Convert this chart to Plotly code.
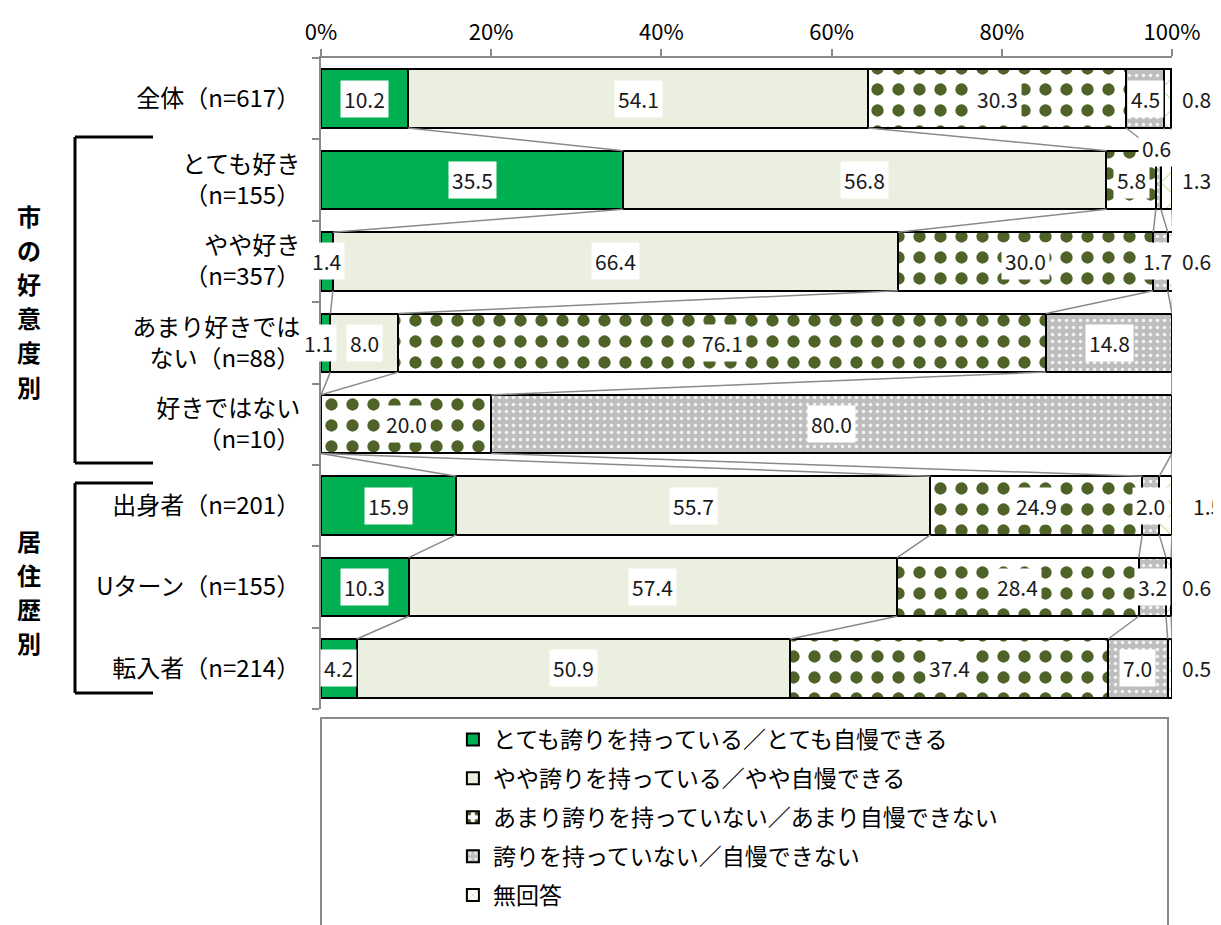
import plotly.graph_objects as go

# rows, top to bottom
categories = ["全体（n=617）", "とても好き<br>（n=155）", "やや好き<br>（n=357）",
              "あまり好きでは<br>ない（n=88）", "好きではない<br>（n=10）",
              "出身者（n=201）", "Uターン（n=155）", "転入者（n=214）"]

series_names = ["とても誇りを持っている／とても自慢できる",
                "やや誇りを持っている／やや自慢できる",
                "あまり誇りを持っていない／あまり自慢できない",
                "誇りを持っていない／自慢できない",
                "無回答"]

very_proud = [10.2, 35.5, 1.4, 1.1, 0, 15.9, 10.3, 4.2]
somewhat_proud = [54.1, 56.8, 66.4, 8.0, 0, 55.7, 57.4, 50.9]
not_very_proud = [30.3, 5.8, 30.0, 76.1, 20.0, 24.9, 28.4, 37.4]
not_proud = [4.5, 0.6, 1.7, 14.8, 80.0, 2.0, 3.2, 7.0]
no_answer = [0.8, 1.3, 0.6, 0, 0, 1.5, 0.6, 0.5]

x_ticks = [0, 20, 40, 60, 80, 100]
x_ticklabels = ["0%", "20%", "40%", "60%", "80%", "100%"]

all_series = [very_proud, somewhat_proud, not_very_proud, not_proud, no_answer]

FONT = "Noto Sans CJK JP"
BAR_W = 0.72
rows = list(range(len(categories)))

styles = [
    dict(color="#00B050", pattern=dict(shape="")),
    dict(color="#EBEFDF", pattern=dict(shape="")),
    dict(color="white", pattern=dict(shape=".", fgcolor="#4F6228", bgcolor="white",
                                     fgopacity=1, size=21, solidity=0.27)),
    dict(color="#BEBEBE", pattern=dict(shape=".", fgcolor="#F4F4F4", bgcolor="#BEBEBE",
                                       fgopacity=1, size=7, solidity=0.2)),
    dict(color="white", pattern=dict(shape="x", fgcolor="#92D050", bgcolor="white",
                                     fgopacity=1, size=22, solidity=0.08)),
]

fig = go.Figure()

# series connector lines (cumulative boundaries between neighbouring bars)
cums = []
for r in rows:
    c, acc = [], 0
    for s in all_series:
        acc += s[r]
        c.append(acc)
    cums.append(c)

lx, ly = [], []
for r in rows[:-1]:
    for k in range(5):
        lx += [cums[r][k], cums[r + 1][k], None]
        ly += [r + BAR_W / 2, r + 1 - BAR_W / 2, None]
fig.add_trace(go.Scatter(x=lx, y=ly, mode="lines", line=dict(color="#8A8A8A", width=1.5),
                         showlegend=False, hoverinfo="skip"))

for i, (name, vals) in enumerate(zip(series_names, all_series)):
    st = styles[i]
    fig.add_trace(go.Bar(
        y=rows, x=vals, name=name, orientation="h", width=BAR_W, legendgroup=str(i),
        marker=dict(color=st["color"], pattern=st["pattern"],
                    line=dict(color="black", width=2)),
    ))

# data labels with white boxes
overrides = {(0, 4): (102.9, 0), (1, 3): (98.2, 0.6), (1, 4): (102.9, 1),
             (2, 4): (102.9, 2), (5, 4): (104.2, 5), (6, 4): (102.9, 6),
             (7, 4): (102.9, 7), (3, 0): (-0.3, 3), (2, 3): (98.3, 2)}
for r in rows:
    start = 0
    for k, s in enumerate(all_series):
        v = s[r]
        if v > 0:
            x, y = overrides.get((r, k), (start + v / 2, r))
            # labels beyond the 0-100 range are placed in paper units
            if x > 100 or x < 0:
                xr, xv = "paper", x / 100
            else:
                xr, xv = "x", x
            fig.add_annotation(x=xv, y=y, xref=xr, yref="y", text=f"{v:.1f}",
                               xanchor="center", yanchor="middle",
                               showarrow=False, bgcolor="white", borderpad=3,
                               font=dict(family=FONT, size=21, color="#1a1a1a"))
        start += v


def px_x(p):
    return (p - 321) / 851


def px_y(p):
    return (709 - p) / 651


# brackets for the two groups
for top, bot in [(137, 463), (483, 693)]:
    for x0, y0, x1, y1 in [(75, top, 75, bot), (75, top, 153, top), (75, bot, 153, bot)]:
        fig.add_shape(type="line", xref="paper", yref="paper",
                      x0=px_x(x0), y0=px_y(y0), x1=px_x(x1), y1=px_y(y1),
                      line=dict(color="black", width=3))

for text, y_first in [("市の好意度別", 215), ("居住歴別", 540)]:
    for j, ch in enumerate(text):
        fig.add_annotation(x=px_x(29), y=px_y(y_first + 34.2 * j), xref="paper", yref="paper",
                           xanchor="center", yanchor="middle",
                           text=f"<b>{ch}</b>", showarrow=False,
                           font=dict(family=FONT, size=24, color="black"))

# legend frame
fig.add_shape(type="rect", xref="paper", yref="paper", x0=0, x1=px_x(1168),
              y0=px_y(718), y1=px_y(960), line=dict(color="#8A8A8A", width=2))

# the page body adds an 8px offset, so left/top margins are trimmed by 8
fig.update_layout(
    width=1221, height=925,
    barmode="stack",
    plot_bgcolor="white", paper_bgcolor="white",
    margin=dict(l=313, r=57, t=50, b=224),
    font=dict(family=FONT, size=24, color="black"),
    showlegend=True,
    legend=dict(orientation="v", x=0.155, xanchor="left", y=px_y(718), yanchor="top",
                traceorder="grouped", tracegroupgap=6, font=dict(size=23),
                bgcolor="rgba(0,0,0,0)"),
)
fig.update_xaxes(range=[0, 100], side="top", tickvals=x_ticks, ticktext=x_ticklabels,
                 showgrid=False, zeroline=False, showline=True, linecolor="#8A8A8A",
                 linewidth=2, ticks="outside", ticklen=7, tickcolor="#8A8A8A", tickwidth=2,
                 tickfont=dict(size=22), automargin=False)
fig.update_yaxes(range=[7.5, -0.5], tickvals=rows, ticktext=categories,
                 showgrid=False, zeroline=False, showline=True, linecolor="#8A8A8A",
                 linewidth=2, ticks="", ticklabelstandoff=14, automargin=False,
                 minor=dict(tickvals=[r + 0.5 for r in [-1] + rows], ticks="outside",
                            ticklen=7, tickcolor="#8A8A8A", tickwidth=2),
                 tickfont=dict(size=24))

fig.write_html("out.html")
